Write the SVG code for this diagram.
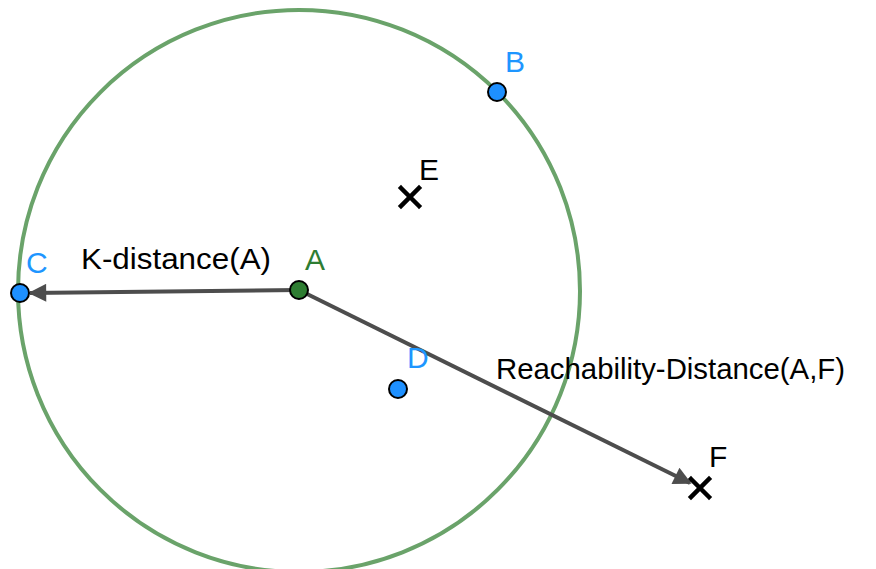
<svg xmlns="http://www.w3.org/2000/svg" width="876" height="569" viewBox="0 0 876 569">
<style>
.lbl{font-family:"Liberation Sans",Arial,sans-serif;font-size:30px}
.blue{fill:#1e96ff}
.pt{fill:#1e90ff;stroke:#000;stroke-width:2}
.cross{stroke:#000;stroke-width:4.5;stroke-linecap:square}
.seg{stroke:#4d4d4d;stroke-width:4;fill:none}
</style>
<defs>
<marker id="ah" viewBox="0 0 10 10" refX="9" refY="5" markerWidth="6" markerHeight="4.5" orient="auto" markerUnits="strokeWidth">
<path d="M0,0 L10,5 L0,10 z" fill="#4d4d4d"/>
</marker>
</defs>
<rect width="876" height="569" fill="#fff"/>
<g id="circle"><circle cx="299" cy="291" r="281" fill="none" stroke="#6aa36a" stroke-width="4"/></g>
<g id="connectors">
<line class="seg" x1="299" y1="290" x2="30" y2="293" marker-end="url(#ah)"/>
<line class="seg" x1="299" y1="290" x2="690" y2="483" marker-end="url(#ah)"/>
<text class="lbl" x="81" y="269" fill="#000" textLength="190" lengthAdjust="spacingAndGlyphs">K-distance(A)</text>
<text class="lbl" x="496" y="379" fill="#000" textLength="349" lengthAdjust="spacingAndGlyphs">Reachability-Distance(A,F)</text>
</g>
<g id="nodeA"><circle cx="299" cy="290" r="9" fill="#2e7d32" stroke="#000" stroke-width="2"/><text class="lbl" x="305" y="270" fill="#2e7d32">A</text></g>
<g id="nodeB"><circle class="pt" cx="497" cy="92" r="9"/><text class="lbl blue" x="505" y="72">B</text></g>
<g id="nodeC"><circle class="pt" cx="20" cy="293" r="9"/><text class="lbl blue" x="26" y="273">C</text></g>
<g id="nodeD"><circle class="pt" cx="398" cy="389" r="9"/><text class="lbl blue" x="407" y="368">D</text></g>
<g id="nodeE"><path class="cross" d="M401,188 L419,206 M419,188 L401,206"/><text class="lbl" x="419" y="180" fill="#000">E</text></g>
<g id="nodeF"><path class="cross" d="M691,479 L709,497 M709,479 L691,497"/><text class="lbl" x="709" y="467" fill="#000">F</text></g>
</svg>
